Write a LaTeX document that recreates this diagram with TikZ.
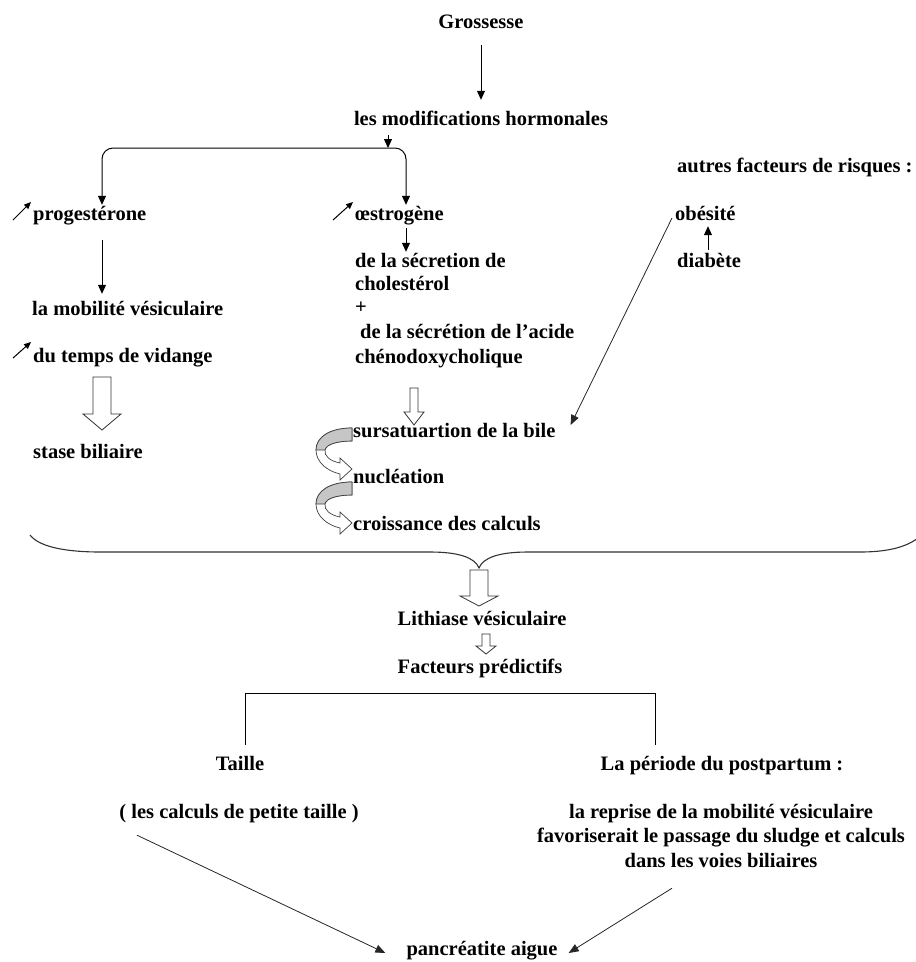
\documentclass[tikz,border=0pt]{standalone}
\usepackage{fontspec}
\setmainfont{Liberation Serif}
\usetikzlibrary{arrows.meta,calc}

\begin{document}
\begin{tikzpicture}[x=1pt,y=-1pt,
    lbl/.style={inner sep=0pt, text height=15pt, text depth=5pt, font=\bfseries\fontsize{20.5}{24}\selectfont},
    arr/.style={line width=1pt, -{Triangle[length=9pt,width=8pt]}},
    thinarr/.style={line width=0.8pt, black!85, -{Triangle[length=10pt,width=8pt]}},
    upsym/.style={line width=1pt, -{Triangle[length=7pt,width=6pt]}},
    hollow/.style={draw=black!80, line width=0.8pt, fill=white},
    ribbon/.style={draw=black!75, line width=0.7pt, fill=white},
    ribbontop/.style={draw=black!75, line width=0.7pt, fill=gray!45}]
    \useasboundingbox (0,0) rectangle (916,962);

    % Haut
    \node[lbl] (gross) at (481,23) {Grossesse};
    \node[lbl] (horm) at (481,120) {les modifications hormonales};
    \node[lbl, anchor=west] (autres) at (677,167) {autres facteurs de risques :};
    \draw[arr, shorten <=12pt, shorten >=10pt] (gross) -- (horm);

    % Embranchement
    \coordinate (split) at (388,148);
    \coordinate (lt) at (102,148);
    \coordinate (rt) at (406,148);
    \node[lbl, anchor=west] (prog) at (33,215) {progestérone};
    \node[lbl, anchor=west] (oest) at (355,215) {œstrogène};
    \draw[arr, shorten <=5pt] (horm.south -| split) -- (split);
    \draw[line width=1pt, {Triangle[length=9pt,width=8pt]}-{Triangle[length=9pt,width=8pt]}, rounded corners=11pt]
        (prog.north -| lt) -- (lt) -- (rt) -- (oest.north -| rt);
    \draw[upsym] ($(prog.west)+(-20,5)$) -- ($(prog.west)+(-2,-13)$);
    \draw[upsym] ($(oest.west)+(-22,5)$) -- ($(oest.west)+(-2,-13)$);

    % Branche progesterone
    \node[lbl, anchor=west] (mobil) at (32,310) {la mobilité vésiculaire};
    \node[lbl, anchor=west] (vid) at (33,357) {du temps de vidange};
    \node[lbl, anchor=west] (stase) at (33,453) {stase biliaire};
    \draw[arr, shorten <=15pt, shorten >=6pt] (prog.south -| lt) -- (mobil.north -| lt);
    \draw[upsym] ($(vid.west)+(-20,1)$) -- ($(vid.west)+(-2,-15)$);
    \draw[hollow] (93,377) -- (111,377) -- (111,414) -- (121,414) -- (102,430) -- (83,414) -- (93,414) -- cycle;

    % Branche oestrogene
    \node[lbl, anchor=west] (secA) at (355,262) {de la sécretion de};
    \node[lbl, anchor=west] (secB) at (355,285) {cholestérol};
    \node[lbl, anchor=west] (plus) at (355,308) {+};
    \node[lbl, anchor=west] (secC) at (360,333) {de la sécrétion de l’acide};
    \node[lbl, anchor=west] (secD) at (355,358) {chénodoxycholique};
    \draw[arr, shorten <=3pt] (oest.south -| rt) -- (secA.north -| rt);
    \draw[hollow] (410,388) -- (418,388) -- (418,412) -- (424,412) -- (414,425) -- (404,412) -- (410,412) -- cycle;

    \node[lbl, anchor=west] (bile) at (353,432) {sursatuartion de la bile};
    \node[lbl, anchor=west] (nucl) at (353,478) {nucléation};
    \node[lbl, anchor=west] (crois) at (353,525) {croissance des calculs};

    % Fleches courbes
    \begin{scope}[shift={(352,428)}]
        \draw[ribbon] (0,0) .. controls (-22,0) and (-36,9) .. (-36,22) .. controls (-36,34) and (-25,43) .. (-12,46)
            -- (-12,52) -- (0,41) -- (-12,30) -- (-12,35) .. controls (-22,33) and (-28,28) .. (-27,22)
            .. controls (-26,16) and (-14,13) .. (0,13) -- cycle;
        \draw[ribbontop] (0,0) .. controls (-22,0) and (-36,9) .. (-36,22) -- (-27,22)
            .. controls (-26,16) and (-14,13) .. (0,13) -- cycle;
    \end{scope}
    \begin{scope}[shift={(352,482)}]
        \draw[ribbon] (0,0) .. controls (-22,0) and (-36,9) .. (-36,22) .. controls (-36,34) and (-25,43) .. (-12,46)
            -- (-12,52) -- (0,41) -- (-12,30) -- (-12,35) .. controls (-22,33) and (-28,28) .. (-27,22)
            .. controls (-26,16) and (-14,13) .. (0,13) -- cycle;
        \draw[ribbontop] (0,0) .. controls (-22,0) and (-36,9) .. (-36,22) -- (-27,22)
            .. controls (-26,16) and (-14,13) .. (0,13) -- cycle;
    \end{scope}

    % Autres facteurs
    \node[lbl, anchor=west] (obes) at (675,215) {obésité};
    \node[lbl, anchor=west] (diab) at (677,262) {diabète};
    \draw[arr, shorten <=2pt, shorten >=1pt] ([xshift=31pt]diab.north west) -- ([xshift=33pt]obes.south west);
    \draw[thinarr] ([shift={(-3,3)}]obes.west) -- ([shift={(15,-7)}]bile.east);

    % Accolade
    \draw[black!80, line width=1.1pt] (30,535) .. controls (40,548) and (70,552) .. (100,552) -- (430,552)
        .. controls (460,552) and (475,558) .. (479,568) .. controls (483,558) and (498,552) .. (528,552)
        -- (860,552) .. controls (885,552) and (905,548) .. (918,538);
    \draw[hollow] (470,570) -- (488,570) -- (488,596) -- (498,596) -- (479,606) -- (460,596) -- (470,596) -- cycle;

    % Bas
    \node[lbl] (lith) at (482,620) {Lithiase vésiculaire};
    \draw[hollow] (482,634) -- (490,634) -- (490,646) -- (496,646) -- (486,654) -- (476,646) -- (482,646) -- cycle;
    \node[lbl] (fact) at (480,668) {Facteurs prédictifs};

    \coordinate (bl) at (245,745);
    \coordinate (br) at (655,745);
    \draw[line width=0.9pt] (bl) -- ++(0,-52) -| (br);

    \node[lbl] (taille) at (240,765) {Taille};
    \node[lbl] (post) at (722,765) {La période du postpartum :};
    \node[lbl] (petite) at (239,813) {( les calculs de petite taille )};
    \node[lbl] (repA) at (721,813) {la reprise de la mobilité vésiculaire};
    \node[lbl] (repB) at (721,837) {favoriserait le passage du sludge et calculs};
    \node[lbl] (repC) at (721,862) {dans les voies biliaires};
    \node[lbl] (panc) at (482,950) {pancréatite aigue};

    \draw[thinarr] ([shift={(-102,12)}]petite.south) -- ([shift={(-21,3)}]panc.west);
    \draw[thinarr] ([shift={(-49,16)}]repC.south) -- ([shift={(11,3)}]panc.east);
\end{tikzpicture}
\end{document}
